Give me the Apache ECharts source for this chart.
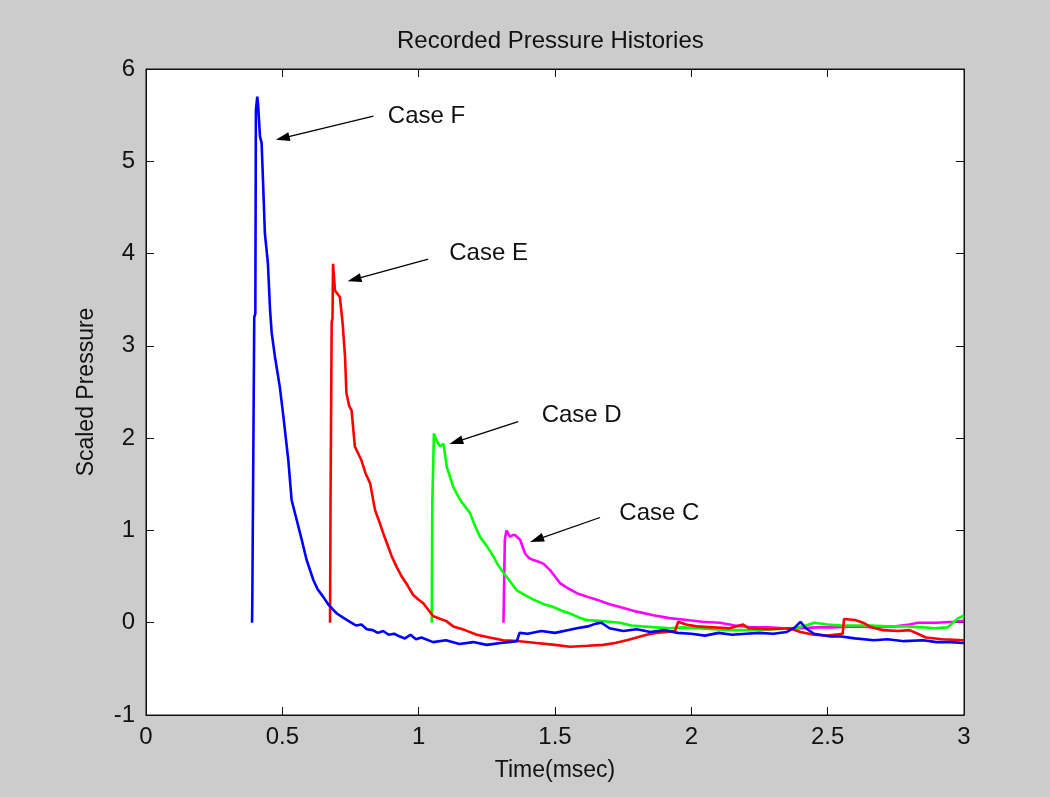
<!DOCTYPE html>
<html>
<head>
<meta charset="utf-8">
<script src="https://cdn.jsdelivr.net/npm/echarts@6/dist/echarts.min.js"></script>
<style>
html,body{margin:0;padding:0;background:#cccccc;}
#chart{width:1050px;height:797px;}
</style>
</head>
<body>
<div id="chart"></div>
<script>
// ---- Data ----
const xTicks = [0, 0.5, 1, 1.5, 2, 2.5, 3];
const yTicks = [-1, 0, 1, 2, 3, 4, 5, 6];

const timeF = [0.389,0.390,0.395,0.397,0.401,0.403,0.406,0.408,0.411,0.414,0.418,0.424,0.429,0.436,0.447,0.455,0.461,0.473,0.491,0.504,0.522,0.534,0.553,0.571,0.589,0.614,0.630,0.650,0.668,0.687,0.700,0.720,0.748,0.770,0.790,0.810,0.832,0.850,0.870,0.890,0.910,0.931,0.950,0.970,0.990,1.010,1.053,1.100,1.150,1.200,1.250,1.300,1.330,1.360,1.370,1.400,1.450,1.500,1.550,1.580,1.620,1.650,1.670,1.700,1.750,1.800,1.850,1.900,1.950,2.000,2.050,2.100,2.150,2.200,2.250,2.300,2.350,2.380,2.400,2.420,2.450,2.510,2.550,2.600,2.670,2.720,2.780,2.850,2.900,2.950,3.000];
const caseF = [0,0.28,0.30,3.31,3.35,5.55,5.55,5.70,5.62,5.47,5.27,5.20,4.80,4.22,3.90,3.39,3.14,2.88,2.55,2.23,1.76,1.33,1.11,0.90,0.68,0.46,0.36,0.28,0.20,0.14,0.10,0.06,0.01,-0.03,-0.02,-0.07,-0.08,-0.11,-0.09,-0.13,-0.12,-0.15,-0.17,-0.13,-0.18,-0.16,-0.21,-0.19,-0.23,-0.21,-0.24,-0.22,-0.21,-0.20,-0.11,-0.12,-0.09,-0.11,-0.08,-0.06,-0.04,-0.01,0.00,-0.06,-0.09,-0.07,-0.10,-0.08,-0.11,-0.12,-0.14,-0.11,-0.13,-0.12,-0.11,-0.12,-0.10,-0.05,0.01,-0.06,-0.12,-0.15,-0.15,-0.17,-0.19,-0.18,-0.20,-0.19,-0.21,-0.21,-0.22];

const timeE = [0.675,0.677,0.680,0.681,0.684,0.686,0.690,0.693,0.700,0.711,0.721,0.730,0.735,0.745,0.754,0.766,0.790,0.805,0.822,0.840,0.855,0.870,0.885,0.901,0.920,0.938,0.960,0.980,1.000,1.017,1.035,1.054,1.080,1.100,1.127,1.170,1.213,1.260,1.310,1.370,1.432,1.500,1.555,1.620,1.676,1.720,1.763,1.800,1.836,1.870,1.909,1.940,1.952,1.980,2.020,2.080,2.140,2.190,2.210,2.280,2.360,2.400,2.450,2.500,2.555,2.560,2.600,2.630,2.660,2.700,2.760,2.800,2.830,2.860,2.920,3.000];
const caseE = [0,1.44,1.44,3.26,3.30,3.89,3.88,3.60,3.60,3.53,3.25,2.88,2.49,2.35,2.30,1.91,1.76,1.62,1.51,1.22,1.10,0.97,0.85,0.72,0.60,0.50,0.40,0.30,0.25,0.21,0.14,0.07,0.04,0.02,-0.04,-0.08,-0.13,-0.16,-0.19,-0.20,-0.22,-0.24,-0.26,-0.25,-0.24,-0.22,-0.19,-0.16,-0.13,-0.11,-0.10,-0.09,0.01,-0.02,-0.04,-0.05,-0.06,-0.02,-0.06,-0.07,-0.06,-0.10,-0.13,-0.14,-0.12,0.04,0.03,0.00,-0.05,-0.08,-0.09,-0.08,-0.12,-0.16,-0.18,-0.19];

const timeD = [1.048,1.050,1.054,1.056,1.062,1.070,1.078,1.091,1.103,1.115,1.127,1.152,1.170,1.188,1.205,1.225,1.250,1.274,1.290,1.311,1.335,1.360,1.390,1.421,1.460,1.494,1.525,1.555,1.585,1.616,1.660,1.700,1.738,1.780,1.820,1.870,1.920,1.970,2.020,2.080,2.150,2.220,2.300,2.380,2.420,2.450,2.500,2.550,2.650,2.720,2.790,2.850,2.890,2.940,2.960,2.980,3.000];
const caseD = [0,1.30,1.30,2.05,2.00,1.95,1.91,1.94,1.69,1.58,1.47,1.33,1.26,1.19,1.06,0.93,0.83,0.72,0.63,0.54,0.45,0.35,0.30,0.25,0.20,0.17,0.13,0.10,0.06,0.03,0.02,0.01,0.00,-0.03,-0.04,-0.05,-0.06,-0.05,-0.06,-0.07,-0.08,-0.08,-0.07,-0.06,-0.03,0.00,-0.02,-0.03,-0.03,-0.04,-0.04,-0.05,-0.06,-0.05,0.00,0.05,0.08];

const timeC = [1.311,1.313,1.316,1.322,1.328,1.335,1.345,1.353,1.372,1.390,1.405,1.421,1.440,1.457,1.482,1.500,1.518,1.550,1.580,1.620,1.653,1.700,1.738,1.800,1.861,1.920,1.983,2.040,2.105,2.160,2.220,2.280,2.340,2.400,2.460,2.520,2.600,2.680,2.750,2.800,2.830,2.900,2.960,3.000];
const caseC = [0,0.35,0.90,1.00,0.98,0.93,0.95,0.95,0.90,0.75,0.70,0.68,0.66,0.64,0.57,0.50,0.43,0.37,0.32,0.28,0.25,0.20,0.17,0.12,0.08,0.05,0.03,0.01,0.00,-0.03,-0.05,-0.05,-0.06,-0.06,-0.05,-0.05,-0.04,-0.05,-0.04,-0.02,0.00,0.00,0.01,0.02];

const annotationLabels = ['Case F', 'Case E', 'Case D', 'Case C'];
const arrowTail = [[0.834, 5.49], [1.035, 3.94], [1.365, 2.18], [1.665, 1.14]];
const arrowHead = [[0.501, 5.25], [0.764, 3.72], [1.137, 1.96], [1.433, 0.90]];
const labelAnchor = [[0.887, 5.49], [1.112, 4.00], [1.451, 2.25], [1.736, 1.19]];

// ---- Build chart ----
const FONT = "'Liberation Sans', Arial, sans-serif";
const pair = (ts, vs) => ts.map((t, i) => [t, vs[i]]);

function lineSeries(name, ts, vs, color) {
  return {
    name: name, type: 'line', data: pair(ts, vs), showSymbol: false,
    symbol: 'none', animation: false, silent: true,
    lineStyle: { color: color, width: 2.6 }
  };
}

const xAxisBase = {
  type: 'value', min: xTicks[0], max: xTicks[xTicks.length - 1], interval: 0.5,
  splitLine: { show: false },
  axisLine: { onZero: false, lineStyle: { color: '#111', width: 1 } },
  axisTick: { inside: true, length: 8, lineStyle: { color: '#111' } }
};
const yAxisBase = {
  type: 'value', min: yTicks[0], max: yTicks[yTicks.length - 1], interval: 1,
  splitLine: { show: false },
  axisLine: { onZero: false, lineStyle: { color: '#111', width: 1 } },
  axisTick: { inside: true, length: 8, lineStyle: { color: '#111' } }
};

const option = {
  backgroundColor: '#cccccc',
  animation: false,
  title: {
    text: 'Recorded Pressure Histories',
    left: 397, top: 29, padding: 0,
    textStyle: { fontFamily: FONT, fontSize: 24, fontWeight: 'normal', color: '#111' }
  },
  grid: {
    left: 146, right: 86, top: 69, bottom: 82,
    show: true, backgroundColor: '#ffffff', borderColor: '#111', borderWidth: 1,
    outerBoundsMode: 'none'
  },
  xAxis: [
    Object.assign({}, xAxisBase, {
      position: 'bottom',
      name: 'Time(msec)', nameLocation: 'middle', nameGap: 44,
      nameTextStyle: { fontFamily: FONT, fontSize: 23, color: '#111' },
      axisLabel: { margin: 10, fontFamily: FONT, fontSize: 24, color: '#111' }
    }),
    Object.assign({}, xAxisBase, { position: 'top', axisLabel: { show: false } })
  ],
  yAxis: [
    Object.assign({}, yAxisBase, {
      position: 'left',
      name: 'Scaled Pressure', nameLocation: 'middle', nameGap: 48,
      nameTextStyle: { fontFamily: FONT, fontSize: 23, color: '#111' },
      axisLabel: { margin: 11, fontFamily: FONT, fontSize: 24, color: '#111' }
    }),
    Object.assign({}, yAxisBase, { position: 'right', axisLabel: { show: false } })
  ],
  series: [
    lineSeries('Case C', timeC, caseC, '#ff00ff'),
    lineSeries('Case D', timeD, caseD, '#00ff00'),
    lineSeries('Case E', timeE, caseE, '#ff0000'),
    lineSeries('Case F', timeF, caseF, '#0000ff'),
    {
      name: 'arrows', type: 'line', data: [], silent: true, animation: false,
      markLine: {
        silent: true, animation: false,
        symbol: ['none', 'triangle'], symbolSize: [9, 14],
        lineStyle: { color: '#000', width: 1.3, type: 'solid' },
        label: { show: false },
        data: arrowTail.map((t, i) => [{ coord: t }, { coord: arrowHead[i] }])
      }
    },
    {
      name: 'labels', type: 'scatter', symbolSize: 0, silent: true, animation: false,
      itemStyle: { opacity: 1 },
      data: labelAnchor.map((p, i) => ({ value: p, name: annotationLabels[i] })),
      label: {
        show: true, position: 'right', distance: 0,
        formatter: p => p.name,
        fontFamily: FONT, fontSize: 24, color: '#111'
      }
    }
  ]
};

const chart = echarts.init(document.getElementById('chart'), null, { renderer: 'canvas' });
chart.setOption(option);
</script>
</body>
</html>
